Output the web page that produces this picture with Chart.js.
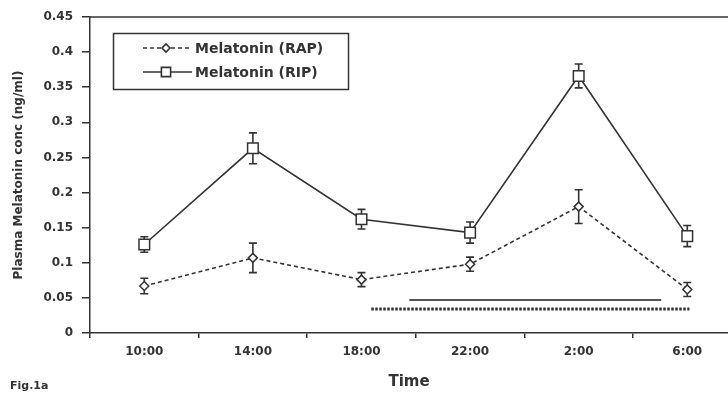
<!DOCTYPE html>
<html>
<head>
<meta charset="utf-8">
<script src="https://cdn.jsdelivr.net/npm/chart.js@4.4.0/dist/chart.umd.min.js"></script>
<style>
  html, body { margin: 0; padding: 0; background: #fff; }
  #wrap { width: 728px; height: 394px; }
</style>
</head>
<body>
<div id="wrap"><canvas id="melChart" width="728" height="394"></canvas></div>
<script>
const timeLabels = ["10:00", "14:00", "18:00", "22:00", "2:00", "6:00"];
const rapValues = [0.067, 0.107, 0.076, 0.098, 0.180, 0.062];
const rapErrors = [0.011, 0.021, 0.010, 0.010, 0.024, 0.010];
const ripValues = [0.126, 0.263, 0.162, 0.143, 0.366, 0.138];
const ripErrors = [0.011, 0.022, 0.014, 0.015, 0.017, 0.015];
const yTickValues = [0, 0.05, 0.1, 0.15, 0.2, 0.25, 0.3, 0.35, 0.4, 0.45];
// significance bars under the curves, x given in category units
const sigSolid = [[2.44, 0.047], [4.76, 0.047]];
const sigDotted = [[2.09, 0.034], [5.02, 0.034]];

const ink = "#333";
const fontFam = "'DejaVu Sans', sans-serif";

const toPoints = (vals) => vals.map((v, i) => ({ x: i, y: v }));
const toXY = (arr) => arr.map(([x, y]) => ({ x, y }));

// error bars go under the markers
const errorBars = {
  id: "errorBars",
  beforeDatasetsDraw(chart) {
    const { ctx, scales: { x, y } } = chart;
    ctx.save();
    ctx.strokeStyle = ink;
    ctx.lineWidth = 1.6;
    [[rapValues, rapErrors], [ripValues, ripErrors]].forEach(([vals, errs]) => {
      vals.forEach((v, i) => {
        const px = x.getPixelForValue(i);
        const top = y.getPixelForValue(v + errs[i]);
        const bot = y.getPixelForValue(v - errs[i]);
        ctx.beginPath();
        ctx.moveTo(px, top); ctx.lineTo(px, bot);
        ctx.moveTo(px - 4, top); ctx.lineTo(px + 4, top);
        ctx.moveTo(px - 4, bot); ctx.lineTo(px + 4, bot);
        ctx.stroke();
      });
    });
    ctx.restore();
  }
};

// top frame line, boxed legend and the figure tag
const extras = {
  id: "extras",
  afterDraw(chart) {
    const { ctx, chartArea } = chart;
    ctx.save();
    ctx.strokeStyle = ink;
    ctx.lineWidth = 1.5;
    ctx.beginPath();
    ctx.moveTo(chartArea.left, chartArea.top);
    ctx.lineTo(chartArea.right, chartArea.top);
    ctx.stroke();

    ctx.strokeRect(113.5, 33.5, 235, 56);
    const rows = [chart.data.datasets[0], chart.data.datasets[1]];
    rows.forEach((ds, k) => {
      const ly = 48 + k * 24;
      ctx.lineWidth = 1.6;
      ctx.strokeStyle = ink;
      ctx.setLineDash(ds.borderDash || []);
      ctx.beginPath();
      ctx.moveTo(143, ly); ctx.lineTo(192, ly);
      ctx.stroke();
      ctx.setLineDash([]);
      ctx.fillStyle = "#fff";
      Chart.helpers.drawPoint(ctx, {
        pointStyle: ds.pointStyle,
        radius: ds.pointStyle === "rect" ? 6.5 : 4,
        borderWidth: 1.5,
        rotation: 0
      }, 166, ly);
      ctx.fillStyle = ink;
      ctx.font = "bold 14px " + fontFam;
      ctx.textBaseline = "middle";
      ctx.textAlign = "left";
      ctx.fillText(ds.label, 195, ly + 1);
    });

    ctx.font = "bold 11px " + fontFam;
    ctx.textBaseline = "middle";
    ctx.fillText("Fig.1a", 10, 386);
    ctx.restore();
  }
};

new Chart(document.getElementById("melChart"), {
  type: "line",
  data: {
    datasets: [
      {
        label: "Melatonin (RAP)",
        data: toPoints(rapValues),
        borderColor: ink,
        borderWidth: 1.6,
        borderDash: [4, 3],
        pointStyle: "rectRot",
        pointRadius: 4.5,
        pointBorderWidth: 1.5,
        pointBackgroundColor: "#fff",
        pointBorderColor: ink
      },
      {
        label: "Melatonin (RIP)",
        data: toPoints(ripValues),
        borderColor: ink,
        borderWidth: 1.6,
        pointStyle: "rect",
        pointRadius: 7.5,
        pointBorderWidth: 1.5,
        pointBackgroundColor: "#fff",
        pointBorderColor: ink
      },
      {
        data: toXY(sigSolid),
        borderColor: "#555",
        borderWidth: 2,
        pointRadius: 0
      },
      {
        data: toXY(sigDotted),
        borderColor: ink,
        borderWidth: 3,
        borderDash: [2.5, 1.5],
        pointRadius: 0
      }
    ]
  },
  options: {
    responsive: false,
    animation: false,
    layout: { autoPadding: false, padding: { top: 17, right: 0, bottom: 0, left: 0 } },
    plugins: { legend: { display: false }, tooltip: { enabled: false } },
    scales: {
      x: {
        type: "linear",
        min: -0.5,
        max: 5.375,
        afterBuildTicks: (s) => { s.ticks = timeLabels.map((_, i) => ({ value: i })); },
        afterFit: (s) => { s.height = 61; },
        ticks: {
          callback: (v) => timeLabels[v],
          color: ink,
          padding: 7,
          maxRotation: 0,
          font: { family: fontFam, size: 12, weight: "bold" }
        },
        grid: { offset: true, drawOnChartArea: false, tickLength: 5, color: ink, lineWidth: 1.5 },
        border: { color: ink, width: 1.5 },
        title: {
          display: true,
          text: "Time",
          color: ink,
          padding: { top: 0, bottom: 3 },
          font: { family: fontFam, size: 15, weight: "bold" }
        }
      },
      y: {
        min: 0,
        max: 0.45,
        afterBuildTicks: (s) => { s.ticks = yTickValues.map((v) => ({ value: v })); },
        afterFit: (s) => { s.width = 90; },
        ticks: {
          callback: (v) => String(+v.toFixed(2)),
          color: ink,
          padding: 9,
          font: { family: fontFam, size: 12, weight: "bold" }
        },
        grid: { drawOnChartArea: false, tickLength: 8, color: ink, lineWidth: 1.5 },
        border: { color: ink, width: 1.5 },
        title: {
          display: true,
          text: "Plasma Melatonin conc (ng/ml)",
          color: ink,
          padding: { top: 12, bottom: 0 },
          font: { family: fontFam, size: 12, weight: "bold" }
        }
      }
    }
  },
  plugins: [errorBars, extras]
});
</script>
</body>
</html>
